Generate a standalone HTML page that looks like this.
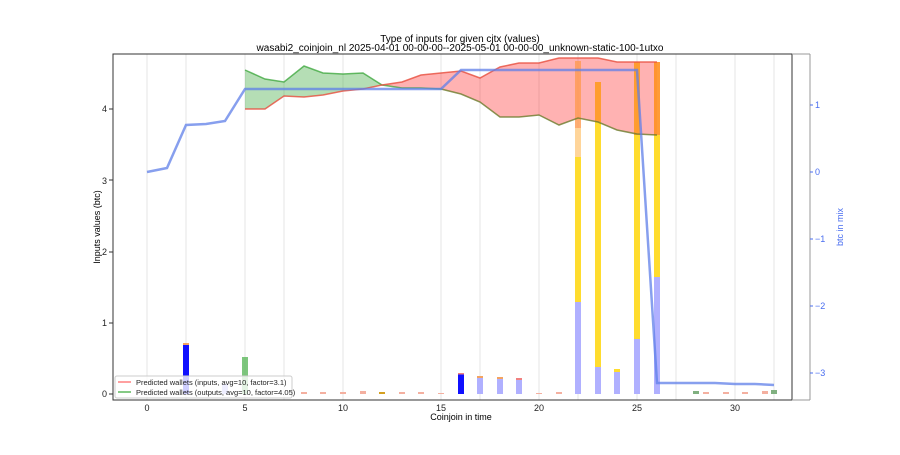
<!DOCTYPE html><html><head><style>body{margin:0;background:#fff}svg{font-family:"Liberation Sans",sans-serif}</style></head><body>
<svg width="900" height="450" viewBox="0 0 900 450">
<rect width="900" height="450" fill="#fff"/>
<text x="460" y="42" font-size="10" text-anchor="middle">Type of inputs for given cjtx (values)</text>
<text x="460" y="51" font-size="10" text-anchor="middle">wasabi2_coinjoin_nl 2025-04-01 00-00-00--2025-05-01 00-00-00_unknown-static-100-1utxo</text>
<g stroke="#e6e6e6" stroke-width="1">
<line x1="147" y1="54" x2="147" y2="400"/><line x1="245" y1="54" x2="245" y2="400"/><line x1="343" y1="54" x2="343" y2="400"/><line x1="441" y1="54" x2="441" y2="400"/><line x1="539" y1="54" x2="539" y2="400"/><line x1="637" y1="54" x2="637" y2="400"/><line x1="735" y1="54" x2="735" y2="400"/>
<line x1="186" y1="54" x2="186" y2="400"/><line x1="284" y1="54" x2="284" y2="400"/><line x1="480" y1="54" x2="480" y2="400"/><line x1="578" y1="54" x2="578" y2="400"/><line x1="676" y1="54" x2="676" y2="400"/><line x1="774" y1="54" x2="774" y2="400"/>
</g>
<polygon points="245,70 265,79 284,82 304,66 323,73 343,74 363,73 382,85 382,85 363,89 343,91 323,95 304,97 284,96 265,109 245,109" fill="#2ca02c" fill-opacity="0.35"/>
<polygon points="382,85 402,82 421,75 441,73 461,71 480,78 500,67 519,63 539,63 559,58 578,58 598,58 617,62 637,62 657,62 657,135 637,134 617,130 598,122 578,118 559,125 539,115 519,117 500,117 480,102 461,94 441,89 421,88 402,88" fill="#ff0000" fill-opacity="0.3"/>
<!-- bars -->
<g>
<rect x="183" y="345" width="6" height="49" fill="#1010ff"/><rect x="183" y="343" width="6" height="2" fill="#f4a460"/>
<rect x="242" y="357" width="6" height="37" fill="#5cb85c" fill-opacity="0.8"/>
<rect x="222" y="384" width="6" height="10" fill="#b0b0ff"/>
<rect x="458" y="374" width="6" height="20" fill="#1010ff"/><rect x="458" y="373" width="6" height="1.5" fill="#f08080"/>
<rect x="477" y="378" width="6" height="16" fill="#b0b0ff"/><rect x="477" y="376" width="6" height="2" fill="#f4a460"/>
<rect x="497" y="379" width="6" height="15" fill="#b0b0ff"/><rect x="497" y="377" width="6" height="2" fill="#f4a460"/>
<rect x="516" y="380" width="6" height="14" fill="#b0b0ff"/><rect x="516" y="378" width="6" height="2" fill="#f08080"/>
<rect x="575" y="302" width="6" height="92" fill="#b0b0ff"/><rect x="575" y="157" width="6" height="145" fill="#ffdc2e"/><rect x="575" y="128" width="6" height="29" fill="#ffd59a"/><rect x="575" y="61" width="6" height="67" fill="#ff9a50" fill-opacity="0.8"/>
<rect x="595" y="367" width="6" height="27" fill="#b0b0ff"/><rect x="595" y="122" width="6" height="245" fill="#ffdc2e"/><rect x="595" y="82" width="6" height="40" fill="#ff9a20" fill-opacity="0.9"/>
<rect x="614" y="372" width="6" height="22" fill="#b0b0ff"/><rect x="614" y="369" width="6" height="3" fill="#ffdc2e"/>
<rect x="634" y="339" width="6" height="55" fill="#b0b0ff"/><rect x="634" y="135" width="6" height="204" fill="#ffdc2e"/><rect x="634" y="62" width="6" height="73" fill="#ff9a20" fill-opacity="0.9"/>
<rect x="654" y="277" width="6" height="117" fill="#b0b0ff"/><rect x="654" y="135" width="6" height="142" fill="#ffdc2e"/><rect x="654" y="62" width="6" height="73" fill="#ff9020" fill-opacity="0.9"/>
<g fill="#f4b0a0"><rect x="301" y="392" width="6" height="2"/><rect x="320" y="392" width="6" height="2"/><rect x="340" y="392" width="6" height="2"/><rect x="360" y="391" width="6" height="3"/><rect x="379" y="392" width="6" height="2" fill="#d4a020"/><rect x="399" y="392" width="6" height="2"/><rect x="418" y="392" width="6" height="2"/><rect x="438" y="393" width="6" height="1"/><rect x="536" y="393" width="6" height="1"/><rect x="556" y="392" width="6" height="2"/><rect x="703" y="392" width="6" height="2"/><rect x="723" y="392" width="6" height="2"/><rect x="742" y="392" width="6" height="2"/><rect x="762" y="391" width="6" height="3"/></g>
<rect x="693" y="391" width="6" height="3" fill="#80b080"/><rect x="771" y="390" width="6" height="4" fill="#80b080"/>
</g>
<polyline points="245,70 265,79 284,82 304,66 323,73 343,74 363,73 382,85 402,88 421,88 441,89" fill="none" stroke="#2ca02c" stroke-opacity="0.7" stroke-width="1.5"/>
<polyline points="441,89 461,94 480,102 500,117 519,117 539,115 559,125 578,118 598,122 617,130 637,134 657,135" fill="none" stroke="#6b7a2a" stroke-opacity="0.8" stroke-width="1.5"/>
<polyline points="245,109 265,109 284,96 304,97 323,95 343,91 363,89 382,85 402,82 421,75 441,73 461,71 480,78 500,67 519,63 539,63 559,58 578,58 598,58 617,62 637,62 657,62" fill="none" stroke="#e74c3c" stroke-opacity="0.8" stroke-width="1.5"/>
<polyline points="147,172 167,168 186,125 206,124 225,121 245,89 265,89 284,89 304,89 323,89 343,89 363,89 382,89 402,89 421,89 441,89 461,70 480,70 500,70 519,70 539,70 559,70 578,70 598,70 617,70 637,70 657,383 676,383 696,383 715,383 735,384 755,384 774,385" fill="none" stroke="#5f7fe8" stroke-opacity="0.75" stroke-width="2.5"/>
<!-- axes -->
<rect x="113" y="54" width="679" height="346" fill="none" stroke="#333" stroke-width="1"/>
<line x1="792" y1="54" x2="810" y2="54" stroke="#999"/>
<line x1="810" y1="54" x2="810" y2="400" stroke="#999"/>
<line x1="792" y1="400" x2="810" y2="400" stroke="#999"/>
<g font-size="9" fill="#222" text-anchor="end">
<text x="107" y="397">0</text><text x="107" y="326">1</text><text x="107" y="255">2</text><text x="107" y="184">3</text><text x="107" y="112">4</text></g>
<g stroke="#333"><line x1="109" y1="394" x2="113" y2="394"/><line x1="109" y1="323" x2="113" y2="323"/><line x1="109" y1="252" x2="113" y2="252"/><line x1="109" y1="180" x2="113" y2="180"/><line x1="109" y1="109" x2="113" y2="109"/></g>
<g font-size="9" fill="#222" text-anchor="middle"><text x="147" y="411">0</text><text x="245" y="411">5</text><text x="343" y="411">10</text><text x="441" y="411">15</text><text x="539" y="411">20</text><text x="637" y="411">25</text><text x="735" y="411">30</text></g>
<text x="461" y="420" font-size="9" text-anchor="middle">Coinjoin in time</text>
<text transform="translate(100,227) rotate(-90)" font-size="9" text-anchor="middle">Inputs values (btc)</text>
<g font-size="9" fill="#4a6ef0"><text x="815" y="108">1</text><text x="815" y="175">0</text><text x="815" y="242">−1</text><text x="815" y="309">−2</text><text x="815" y="376">−3</text></g>
<g stroke="#4a6ef0"><line x1="810" y1="105" x2="813" y2="105"/><line x1="810" y1="172" x2="813" y2="172"/><line x1="810" y1="239" x2="813" y2="239"/><line x1="810" y1="306" x2="813" y2="306"/><line x1="810" y1="373" x2="813" y2="373"/></g>
<text transform="translate(843,227) rotate(-90)" font-size="9" fill="#4a6ef0" text-anchor="middle">btc in mix</text>
<rect x="115" y="376" width="177" height="22" rx="2" fill="#fff" fill-opacity="0.8" stroke="#ccc"/>
<line x1="118" y1="382" x2="131" y2="382" stroke="#ff8080" stroke-width="1.5"/>
<line x1="118" y1="392" x2="131" y2="392" stroke="#5cb85c" stroke-width="1.5"/>
<g font-size="7.5" fill="#222"><text x="136" y="385">Predicted wallets (inputs, avg=10, factor=3.1)</text><text x="136" y="395">Predicted wallets (outputs, avg=10, factor=4.05)</text></g>
</svg></body></html>
